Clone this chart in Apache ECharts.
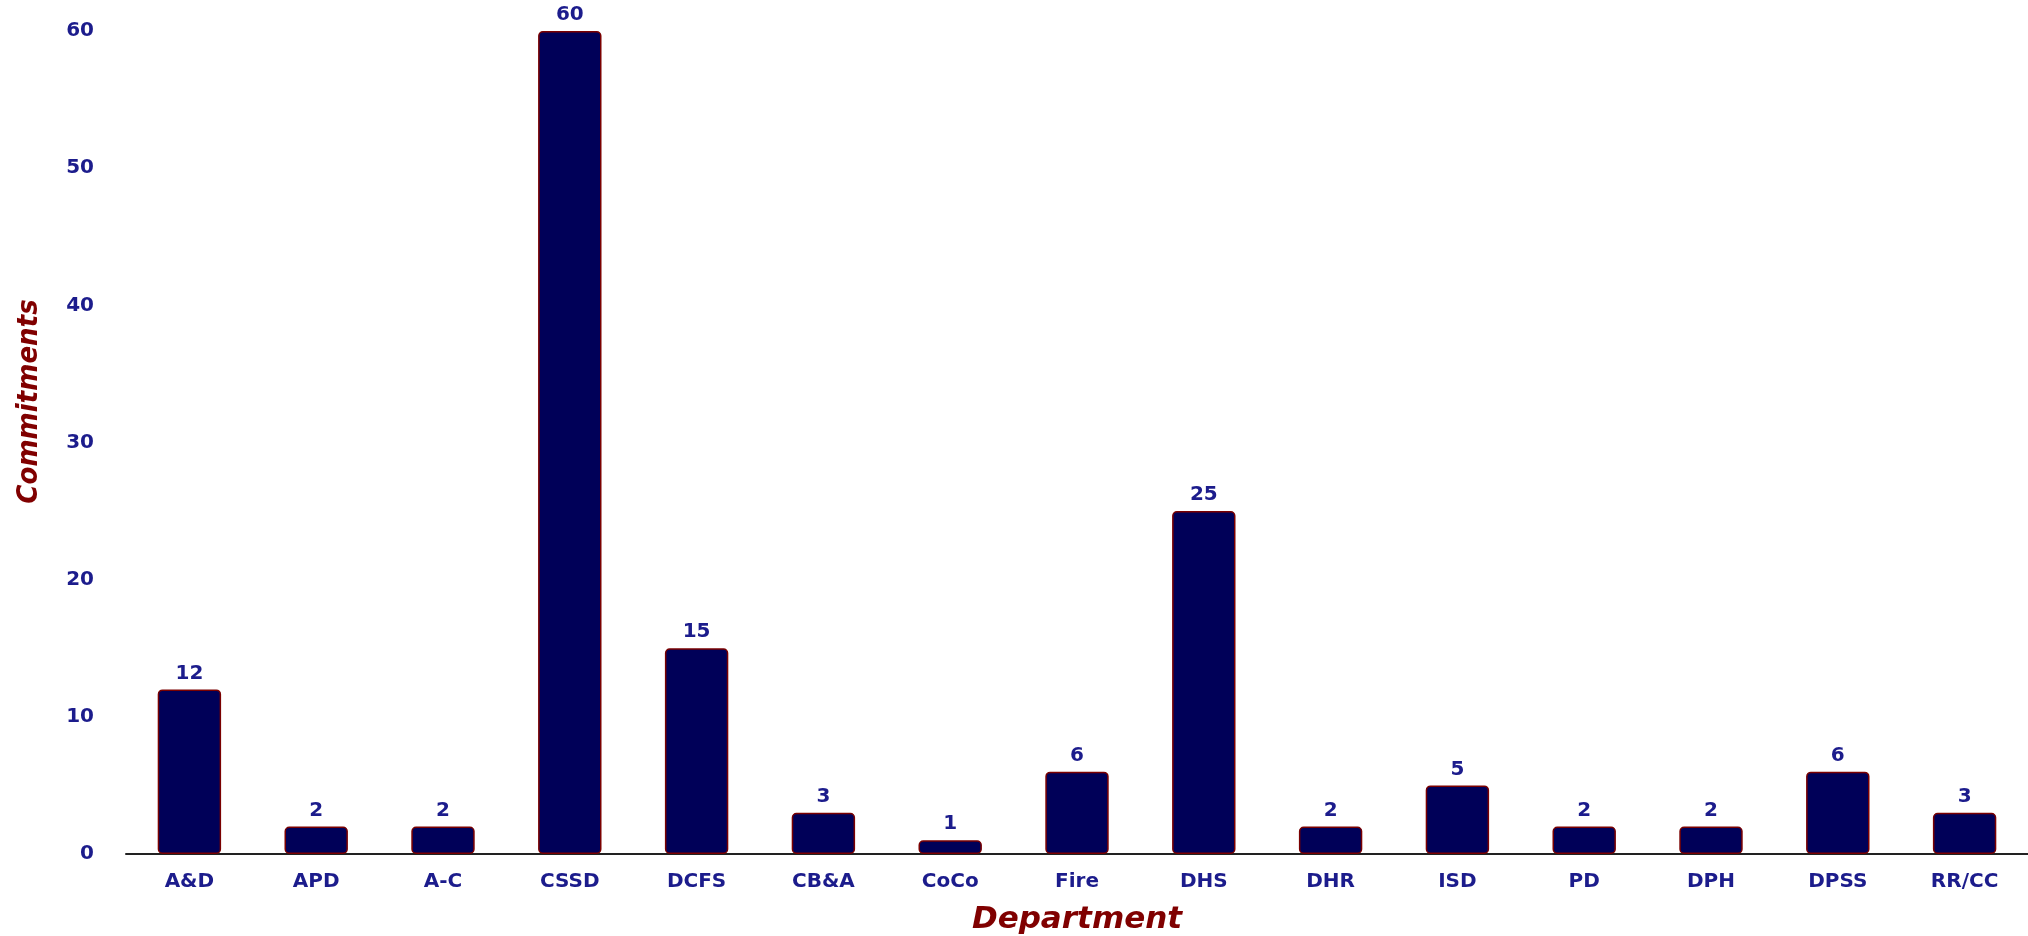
<!DOCTYPE html>
<html>
<head>
<meta charset="utf-8">
<script src="https://cdn.jsdelivr.net/npm/echarts@6/dist/echarts.min.js"></script>
<style>
html,body{margin:0;padding:0;background:#fff;}
#chart{width:2028px;height:936px;}
</style>
</head>
<body>
<div id="chart"></div>
<script>
const categories = ['A&D','APD','A-C','CSSD','DCFS','CB&A','CoCo','Fire','DHS','DHR','ISD','PD','DPH','DPSS','RR/CC'];
const commitments = [12,2,2,60,15,3,1,6,25,2,5,2,2,6,3];
const yTicks = {min:0, max:60, interval:10};

const labelColor = '#1c1c8c';
const nameColor = '#800000';
const chart = echarts.init(document.getElementById('chart'));
chart.setOption({
  animation:false,
  grid:{left:126, right:0, top:31, bottom:82, containLabel:false, outerBoundsMode:'none'},
  xAxis:{
    type:'category',
    data:categories,
    name:'Department',
    nameLocation:'middle',
    nameGap:50,
    nameTextStyle:{color:nameColor, fontFamily:'DejaVu Sans', fontWeight:'bold', fontStyle:'italic', fontSize:31},
    axisLine:{lineStyle:{color:'#222', width:2}},
    axisTick:{show:false},
    axisLabel:{color:labelColor, fontFamily:'DejaVu Sans', fontWeight:'bold', fontSize:20, margin:18}
  },
  yAxis:{
    type:'value',
    min:yTicks.min, max:yTicks.max, interval:yTicks.interval,
    name:'Commitments',
    nameLocation:'middle',
    nameGap:82,
    nameRotate:90,
    nameTextStyle:{color:nameColor, fontFamily:"'DejaVu Sans Condensed','DejaVu Sans',sans-serif", fontWeight:'bold', fontStyle:'italic', fontSize:29, padding:[0,0,0,82]},
    axisLine:{show:false},
    axisTick:{show:false},
    splitLine:{show:false},
    axisLabel:{color:labelColor, fontFamily:'DejaVu Sans', fontWeight:'bold', fontSize:20, margin:32}
  },
  series:[{
    type:'bar',
    data:commitments,
    barWidth:'50%',
    itemStyle:{color:'#000058', borderColor:'#7a0000', borderWidth:1.5, borderRadius:4},
    label:{show:true, position:'top', distance:6, color:labelColor, fontFamily:'DejaVu Sans', fontWeight:'bold', fontSize:20}
  }]
});
</script>
</body>
</html>
